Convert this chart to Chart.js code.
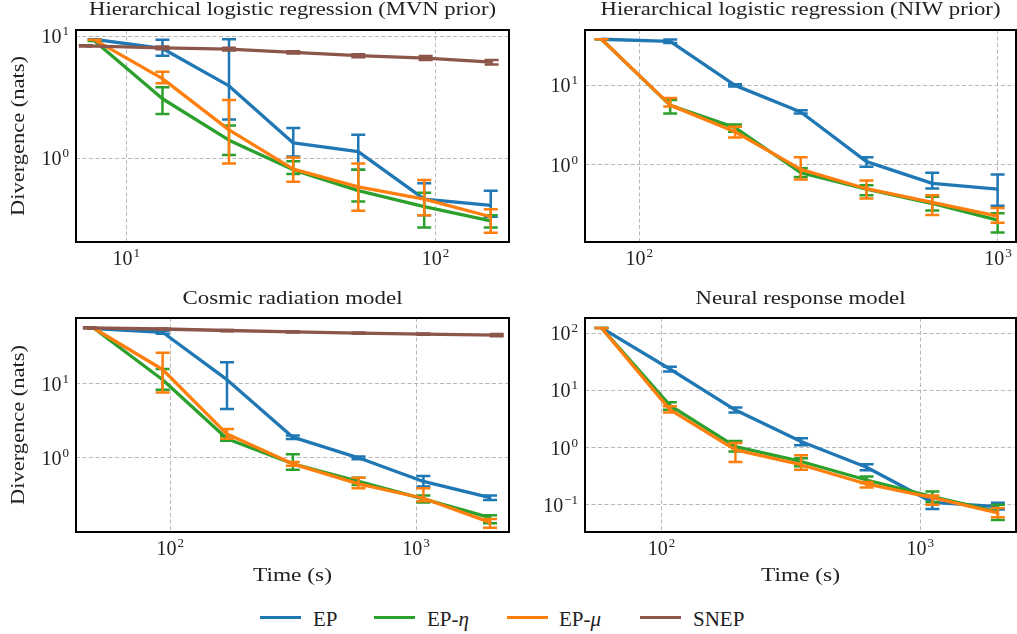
<!DOCTYPE html>
<html><head><meta charset="utf-8">
<script src="https://cdn.jsdelivr.net/npm/chart.js@4.4.0/dist/chart.umd.min.js"></script>
<style>
html,body{margin:0;padding:0;background:#fff;width:1017px;height:634px;overflow:hidden;position:relative}
canvas{position:absolute}
.lg{position:absolute;height:3px;width:41px;top:616px}
.lt{position:absolute;top:608px;font:21px "Liberation Serif",serif;color:#222;line-height:22px;white-space:nowrap}
</style></head><body>
<canvas id="c1" width="512" height="285" style="left:0;top:0"></canvas>
<canvas id="c2" width="505" height="285" style="left:512px;top:0"></canvas>
<canvas id="c3" width="512" height="310" style="left:0;top:285px"></canvas>
<canvas id="c4" width="505" height="310" style="left:512px;top:285px"></canvas>
<div class="lg" style="left:260px;background:#1f77b4"></div><div class="lt" style="left:313px">EP</div>
<div class="lg" style="left:374px;background:#2ca02c"></div><div class="lt" style="left:427px">EP-<i>η</i></div>
<div class="lg" style="left:507px;background:#ff7f0e"></div><div class="lt" style="left:559px">EP-<i>μ</i></div>
<div class="lg" style="left:640px;background:#8c564b"></div><div class="lt" style="left:693px">SNEP</div>
<script>
// ---------- DATA ----------
const seriesNames = ['EP', 'EP-η', 'EP-μ', 'SNEP'];
const seriesColors = ['#1f77b4', '#2ca02c', '#ff7f0e', '#8c564b'];

// Panel 1: Hierarchical logistic regression (MVN prior)
const p1Time = [7.9, 13.1, 21.5, 34.7, 56.3, 92, 151];
const p1TimeSnep = [7.4, 13.1, 21.5, 34.7, 56.3, 93, 152];
const p1EP = [9.4, 7.9, 3.9, 1.33, 1.13, 0.46, 0.41];
const p1EPlo = [9.4, 6.9, 2.07, 1.03, 0.80, 0.34, 0.33];
const p1EPhi = [9.4, 9.3, 9.4, 1.76, 1.55, 0.62, 0.54];
const p1Eta = [9.1, 3.06, 1.4, 0.80, 0.54, 0.40, 0.306];
const p1Etalo = [9.1, 2.3, 1.06, 0.74, 0.44, 0.27, 0.27];
const p1Etahi = [9.1, 3.8, 1.85, 0.94, 0.80, 0.52, 0.34];
const p1Mu = [9.3, 4.47, 1.70, 0.81, 0.58, 0.46, 0.33];
const p1Mulo = [9.3, 4.1, 0.90, 0.64, 0.37, 0.34, 0.244];
const p1Muhi = [9.3, 5.1, 2.99, 1.01, 0.90, 0.66, 0.38];
const p1Snep = [8.3, 8.0, 7.8, 7.35, 6.9, 6.6, 6.1];
const p1Sneplo = [8.2, 7.8, 7.6, 7.2, 6.7, 6.35, 5.85];
const p1Snephi = [8.4, 8.2, 8.0, 7.5, 7.1, 6.85, 6.35];

// Panel 2: Hierarchical logistic regression (NIW prior)
const p2Time = [78.5, 122, 185, 282, 430, 656, 998];
const p2EP = [37.3, 35.2, 9.9, 4.6, 1.1, 0.59, 0.50];
const p2EPlo = [37.3, 33.5, 9.6, 4.4, 0.95, 0.51, 0.31];
const p2EPhi = [37.3, 37, 10.2, 4.85, 1.25, 0.80, 0.76];
const p2Eta = [37.3, 5.57, 2.93, 0.80, 0.50, 0.33, 0.205];
const p2Etalo = [37.3, 4.4, 2.6, 0.71, 0.42, 0.27, 0.143];
const p2Etahi = [37.3, 6.5, 3.2, 0.91, 0.56, 0.40, 0.25];
const p2Mu = [37.3, 5.6, 2.6, 0.88, 0.505, 0.34, 0.23];
const p2Mulo = [37.3, 5.4, 2.2, 0.66, 0.38, 0.237, 0.19];
const p2Muhi = [37.3, 6.9, 3.0, 1.25, 0.64, 0.42, 0.29];

// Panel 3: Cosmic radiation model
const p3Time = [49, 93, 170, 315, 583, 1071, 2000];
const p3TimeSnep = [47, 93, 170, 315, 583, 1071, 2130];
const p3EP = [55.3, 49.3, 11.3, 1.90, 1.0, 0.48, 0.29];
const p3EPlo = [55.3, 47, 4.55, 1.80, 0.96, 0.41, 0.27];
const p3EPhi = [55.3, 51.5, 19.4, 2.0, 1.04, 0.57, 0.31];
const p3Eta = [55.3, 11.3, 1.81, 0.83, 0.48, 0.279, 0.156];
const p3Etalo = [55.3, 8.3, 1.70, 0.69, 0.43, 0.25, 0.131];
const p3Etahi = [55.3, 15.8, 1.95, 1.12, 0.54, 0.31, 0.168];
const p3Mu = [55.3, 15.5, 2.09, 0.83, 0.445, 0.285, 0.135];
const p3Mulo = [55.3, 7.6, 1.81, 0.78, 0.39, 0.26, 0.114];
const p3Muhi = [55.3, 26, 2.44, 0.88, 0.54, 0.39, 0.15];
const p3Snep = [56.5, 54.5, 52, 50, 48, 46.5, 45];
const p3Sneplo = [55.5, 53.5, 51, 49, 47, 45.5, 43.5];
const p3Snephi = [57.5, 55.5, 53, 51, 49, 47.5, 46.5];

// Panel 4: Neural response model
const p4Time = [58.6, 107.7, 193, 346, 620, 1114, 1995];
const p4EP = [124, 23.7, 4.53, 1.27, 0.45, 0.11, 0.092];
const p4EPlo = [124, 21.5, 4.1, 1.1, 0.40, 0.084, 0.082];
const p4EPhi = [124, 26, 5.0, 1.45, 0.51, 0.125, 0.108];
const p4Eta = [124, 5.45, 1.04, 0.57, 0.27, 0.138, 0.075];
const p4Etalo = [124, 4.6, 0.85, 0.47, 0.24, 0.11, 0.054];
const p4Etahi = [124, 6.2, 1.3, 0.65, 0.31, 0.17, 0.10];
const p4Mu = [124, 4.6, 0.91, 0.50, 0.23, 0.133, 0.072];
const p4Mulo = [124, 4.1, 0.56, 0.41, 0.20, 0.10, 0.06];
const p4Muhi = [124, 5.3, 1.2, 0.73, 0.25, 0.145, 0.087];

// Tick values and labels (base 10, exponent)
const p1XTicks = [10, 100], p1XExp = ['1', '2'];
const p1YTicks = [1, 10], p1YExp = ['0', '1'];
const p2XTicks = [100, 1000], p2XExp = ['2', '3'];
const p2YTicks = [1, 10], p2YExp = ['0', '1'];
const p3XTicks = [100, 1000], p3XExp = ['2', '3'];
const p3YTicks = [1, 10], p3YExp = ['0', '1'];
const p4XTicks = [100, 1000], p4XExp = ['2', '3'];
const p4YTicks = [0.1, 1, 10, 100], p4YExp = ['\u22121', '0', '1', '2'];

const titles = ['Hierarchical logistic regression (MVN prior)', 'Hierarchical logistic regression (NIW prior)', 'Cosmic radiation model', 'Neural response model'];
const yLabel = 'Divergence (nats)';
const xLabel = 'Time (s)';

// ---------- BUILD ----------
const SERIF = '"Liberation Serif", serif';

function fitText(ctx, text, x, y, targetW, font, rot) {
  ctx.save();
  ctx.font = font;
  const w = ctx.measureText(text).width;
  ctx.translate(x, y);
  if (rot) ctx.rotate(rot);
  ctx.scale(targetW / w, 1);
  ctx.textAlign = 'center';
  ctx.textBaseline = 'alphabetic';
  ctx.fillStyle = '#222';
  ctx.fillText(text, 0, 0);
  ctx.restore();
}

function drawPow(ctx, exp, x, y, align) {
  ctx.save();
  ctx.fillStyle = '#222';
  ctx.textBaseline = 'alphabetic';
  ctx.textAlign = 'left';
  const fb = '20px ' + SERIF, fs = '13px ' + SERIF;
  ctx.font = fb; const wb = ctx.measureText('10').width;
  ctx.font = fs; const ws = ctx.measureText(exp).width;
  const tot = wb + 1 + ws;
  let x0 = align === 'center' ? x - tot / 2 : x - tot;
  ctx.font = fb; ctx.fillText('10', x0, y);
  ctx.font = fs; ctx.fillText(exp, x0 + wb + 1, y - 8);
  ctx.restore();
}

const errPlugin = {
  id: 'errbars',
  afterDatasetDraw(chart, args) {
    const ds = chart.data.datasets[args.index];
    if (!ds.lo) return;
    const xs = chart.scales.x, ys = chart.scales.y, ctx = chart.ctx;
    ctx.save();
    ctx.strokeStyle = ds.borderColor;
    ctx.lineWidth = 2.5;
    ds.data.forEach((p, i) => {
      const px = xs.getPixelForValue(p.x);
      const y1 = ys.getPixelForValue(ds.lo[i]);
      const y2 = ys.getPixelForValue(ds.hi[i]);
      ctx.beginPath();
      ctx.moveTo(px, y1); ctx.lineTo(px, y2);
      ctx.moveTo(px - 7, y1); ctx.lineTo(px + 7, y1);
      ctx.moveTo(px - 7, y2); ctx.lineTo(px + 7, y2);
      ctx.stroke();
    });
    ctx.restore();
  }
};

const decorPlugin = {
  id: 'decor',
  afterDraw(chart, args, o) {
    const ctx = chart.ctx, a = chart.chartArea;
    const xs = chart.scales.x, ys = chart.scales.y;
    ctx.save();
    ctx.strokeStyle = '#000'; ctx.lineWidth = 2;
    ctx.strokeRect(a.left, a.top, a.right - a.left, a.bottom - a.top);
    ctx.restore();
    o.xTicks.forEach((v, i) => drawPow(ctx, o.xExp[i], xs.getPixelForValue(v), a.bottom + 23, 'center'));
    o.yTicks.forEach((v, i) => drawPow(ctx, o.yExp[i], a.left - 7, ys.getPixelForValue(v) + 7, 'right'));
    const cx = (a.left + a.right) / 2, cy = (a.top + a.bottom) / 2;
    fitText(ctx, o.title, cx, o.titleY, o.titleW, '19px ' + SERIF);
    if (o.yLabel) fitText(ctx, o.yLabel, 24, cy, 160, '19px ' + SERIF, -Math.PI / 2);
    if (o.xLabel) fitText(ctx, o.xLabel, cx, a.bottom + 49, 79, '19px ' + SERIF);
  }
};

function mkDs(i, xs, ys, lo, hi) {
  return {
    label: seriesNames[i],
    data: xs.map((x, k) => ({ x: x, y: ys[k] })),
    lo: lo, hi: hi,
    borderColor: seriesColors[i], backgroundColor: seriesColors[i],
    borderWidth: 3.3, pointRadius: 0, tension: 0, fill: false,
    borderJoinStyle: 'round', order: -i
  };
}

function makeChart(id, cfg) {
  const gridOpts = { color: '#b8b8b8', lineWidth: 1, drawTicks: false };
  new Chart(document.getElementById(id), {
    type: 'line',
    data: { datasets: cfg.datasets },
    options: {
      responsive: false, animation: false, devicePixelRatio: 1,
      layout: { padding: cfg.pad },
      plugins: { legend: { display: false }, tooltip: { enabled: false }, decor: cfg.decor },
      scales: {
        x: {
          type: 'logarithmic', min: cfg.xr[0], max: cfg.xr[1],
          afterBuildTicks: s => { s.ticks = cfg.decor.xTicks.map(v => ({ value: v })); },
          afterFit: s => { s.height = cfg.xH; },
          ticks: { display: false }, grid: gridOpts,
          border: { display: false, dash: [4, 2.5] }
        },
        y: {
          type: 'logarithmic', min: cfg.yr[0], max: cfg.yr[1],
          afterBuildTicks: s => { s.ticks = cfg.decor.yTicks.map(v => ({ value: v })); },
          afterFit: s => { s.width = cfg.yW; },
          ticks: { display: false }, grid: gridOpts,
          border: { display: false, dash: [4, 2.5] }
        }
      }
    },
    plugins: [errPlugin, decorPlugin]
  });
}

makeChart('c1', {
  datasets: [mkDs(0, p1Time, p1EP, p1EPlo, p1EPhi), mkDs(1, p1Time, p1Eta, p1Etalo, p1Etahi),
             mkDs(2, p1Time, p1Mu, p1Mulo, p1Muhi), mkDs(3, p1TimeSnep, p1Snep, p1Sneplo, p1Snephi)],
  xr: [6.88, 173], yr: [0.205, 11.2], pad: { left: 0, top: 30, right: 3, bottom: 13 }, xH: 30, yW: 76,
  decor: { xTicks: p1XTicks, xExp: p1XExp, yTicks: p1YTicks, yExp: p1YExp, title: titles[0], titleY: 15, titleW: 407, yLabel: yLabel }
});
makeChart('c2', {
  datasets: [mkDs(0, p2Time, p2EP, p2EPlo, p2EPhi), mkDs(1, p2Time, p2Eta, p2Etalo, p2Etahi),
             mkDs(2, p2Time, p2Mu, p2Mulo, p2Muhi)],
  xr: [70.6, 1123], yr: [0.109, 48.7], pad: { left: 0, top: 30, right: 1, bottom: 13 }, xH: 30, yW: 73,
  decor: { xTicks: p2XTicks, xExp: p2XExp, yTicks: p2YTicks, yExp: p2YExp, title: titles[1], titleY: 15, titleW: 400 }
});
makeChart('c3', {
  datasets: [mkDs(0, p3Time, p3EP, p3EPlo, p3EPhi), mkDs(1, p3Time, p3Eta, p3Etalo, p3Etahi),
             mkDs(2, p3Time, p3Mu, p3Mulo, p3Muhi), mkDs(3, p3TimeSnep, p3Snep, p3Sneplo, p3Snephi)],
  xr: [41.3, 2389], yr: [0.1, 76.7], pad: { left: 0, top: 33, right: 3, bottom: 33 }, xH: 30, yW: 76,
  decor: { xTicks: p3XTicks, xExp: p3XExp, yTicks: p3YTicks, yExp: p3YExp, title: titles[2], titleY: 19, titleW: 220, yLabel: yLabel, xLabel: xLabel }
});
makeChart('c4', {
  datasets: [mkDs(0, p4Time, p4EP, p4EPlo, p4EPhi), mkDs(1, p4Time, p4Eta, p4Etalo, p4Etahi),
             mkDs(2, p4Time, p4Mu, p4Mulo, p4Muhi)],
  xr: [50.6, 2344], yr: [0.0332, 185], pad: { left: 0, top: 33, right: 1, bottom: 33 }, xH: 30, yW: 73,
  decor: { xTicks: p4XTicks, xExp: p4XExp, yTicks: p4YTicks, yExp: p4YExp, title: titles[3], titleY: 19, titleW: 210, xLabel: xLabel }
});
</script>
</body></html>
